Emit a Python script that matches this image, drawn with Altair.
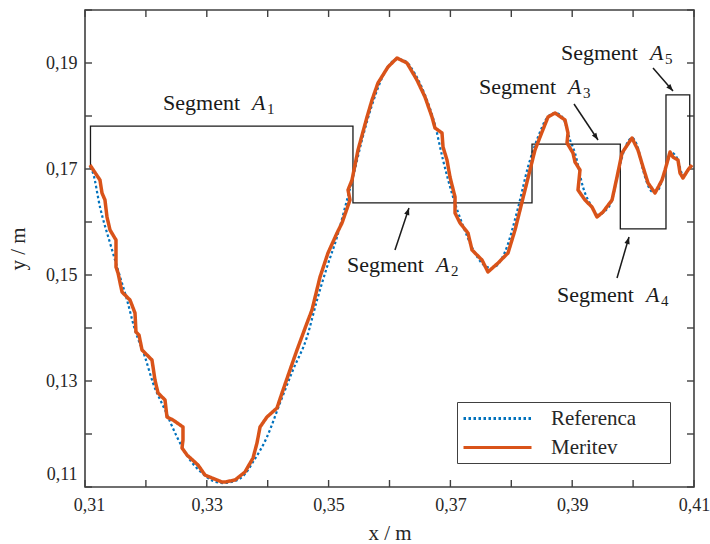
import math
import altair as alt
import pandas as pd

# ---------------- data ----------------
ref_x = [0.31082, 0.31131, 0.31246, 0.31411, 0.31542, 0.31690, 0.31821, 0.31985, 0.32117, 0.32314,
         0.32511, 0.32691, 0.32921, 0.33102, 0.33266, 0.33463, 0.33627, 0.33759, 0.33988, 0.34202,
         0.34415, 0.34645, 0.34810, 0.34974, 0.35138, 0.35302, 0.35401, 0.35548, 0.35713, 0.35877,
         0.36010, 0.36123, 0.36254, 0.36420, 0.36583, 0.36747, 0.36879, 0.37043, 0.37190, 0.37404,
         0.37568, 0.37683, 0.37896, 0.38110, 0.38274, 0.38439, 0.38585, 0.38718, 0.38850, 0.38965,
         0.39046, 0.39177, 0.39325, 0.39424, 0.39539, 0.39654, 0.39752, 0.39867, 0.39982, 0.40080,
         0.40163, 0.40327, 0.40410, 0.40491, 0.40639, 0.40721, 0.40819, 0.40934]
ref_y = [0.17038, 0.16925, 0.16283, 0.15604, 0.15094, 0.14528, 0.13962, 0.13453, 0.12962, 0.12453,
         0.11943, 0.11566, 0.11264, 0.11113, 0.11075, 0.11113, 0.11245, 0.11472, 0.11943, 0.12585,
         0.13208, 0.13830, 0.14528, 0.15151, 0.15717, 0.16415, 0.16849, 0.17547, 0.18208, 0.18717,
         0.18981, 0.19075, 0.19038, 0.18792, 0.18396, 0.17830, 0.17170, 0.16472, 0.15981, 0.15415,
         0.15170, 0.15132, 0.15434, 0.16264, 0.17038, 0.17604, 0.17962, 0.18057, 0.17962, 0.17547,
         0.17302, 0.16660, 0.16283, 0.16132, 0.16208, 0.16415, 0.16925, 0.17396, 0.17585, 0.17396,
         0.16981, 0.16566, 0.16604, 0.16849, 0.17302, 0.17208, 0.16887, 0.17038]

mer_x = [0.31082, 0.31246, 0.31279, 0.31328, 0.31361, 0.31411, 0.31509, 0.31509, 0.31542, 0.31608,
         0.31739, 0.31821, 0.31837, 0.31887, 0.31936, 0.32100, 0.32149, 0.32199, 0.32314, 0.32346,
         0.32445, 0.32609, 0.32609, 0.32593, 0.32675, 0.32856, 0.32970, 0.33085, 0.33250, 0.33299,
         0.33463, 0.33627, 0.33759, 0.33824, 0.33874, 0.33988, 0.34153, 0.34235, 0.34366, 0.34481,
         0.34645, 0.34727, 0.34859, 0.34990, 0.35138, 0.35220, 0.35351, 0.35319, 0.35384, 0.35483,
         0.35631, 0.35713, 0.35811, 0.35975, 0.36123, 0.36287, 0.36451, 0.36583, 0.36698, 0.36747,
         0.36862, 0.36879, 0.36944, 0.36993, 0.37076, 0.37076, 0.37158, 0.37289, 0.37355, 0.37519,
         0.37617, 0.37782, 0.37946, 0.38061, 0.38143, 0.38225, 0.38307, 0.38389, 0.38504, 0.38603,
         0.38718, 0.38882, 0.38931, 0.38915, 0.39013, 0.39046, 0.39128, 0.39095, 0.39210, 0.39325,
         0.39407, 0.39506, 0.39654, 0.39736, 0.39818, 0.39982, 0.40080, 0.40163, 0.40245, 0.40360,
         0.40475, 0.40525, 0.40606, 0.40655, 0.40737, 0.40770, 0.40819, 0.40901, 0.40967]
mer_y = [0.17075, 0.16792, 0.16547, 0.16415, 0.16094, 0.15849, 0.15660, 0.15151, 0.15038, 0.14679,
         0.14528, 0.14283, 0.13925, 0.13868, 0.13585, 0.13396, 0.13019, 0.12774, 0.12642, 0.12321,
         0.12264, 0.12132, 0.11887, 0.11736, 0.11604, 0.11415, 0.11226, 0.11170, 0.11094, 0.11094,
         0.11132, 0.11283, 0.11547, 0.11830, 0.12132, 0.12321, 0.12491, 0.12774, 0.13208, 0.13585,
         0.14094, 0.14340, 0.14962, 0.15415, 0.15792, 0.15981, 0.16415, 0.16604, 0.16792, 0.17358,
         0.17981, 0.18302, 0.18623, 0.18925, 0.19094, 0.19000, 0.18679, 0.18358, 0.17981, 0.17774,
         0.17679, 0.17415, 0.17170, 0.16849, 0.16472, 0.16170, 0.15981, 0.15792, 0.15472, 0.15283,
         0.15057, 0.15226, 0.15415, 0.15849, 0.16226, 0.16604, 0.16981, 0.17358, 0.17698, 0.17981,
         0.18057, 0.17925, 0.17679, 0.17491, 0.17302, 0.17132, 0.16981, 0.16604, 0.16415, 0.16283,
         0.16094, 0.16189, 0.16415, 0.16849, 0.17302, 0.17585, 0.17358, 0.17038, 0.16736, 0.16547,
         0.16792, 0.16981, 0.17321, 0.17226, 0.17170, 0.16925, 0.16830, 0.16981, 0.17075]

# segment outline (step polyline)
seg_x = [0.3109, 0.3109, 0.3540, 0.3540, 0.3834, 0.3834, 0.3979, 0.3979, 0.4054, 0.4054, 0.4093, 0.4093]
seg_y = [0.1706, 0.1781, 0.1781, 0.1636, 0.1636, 0.1747, 0.1747, 0.1587, 0.1587, 0.1840, 0.1840, 0.1706]

# segment labels: left end of "Segment", baseline
lab_x = [0.32281, 0.35302, 0.37470, 0.38750, 0.38816]
lab_y = [0.18113, 0.15057, 0.18415, 0.14491, 0.19057]
lab_sub = ["1", "2", "3", "4", "5"]

# arrows: start -> tip
arr_x1 = [0.36090, 0.39030, 0.39736, 0.40327]
arr_y1 = [0.15472, 0.18226, 0.14943, 0.18906]
arr_x2 = [0.36320, 0.39424, 0.39933, 0.40655]
arr_y2 = [0.16264, 0.17547, 0.15717, 0.18472]

x_ticks = [0.31, 0.32, 0.33, 0.34, 0.35, 0.36, 0.37, 0.38, 0.39, 0.40, 0.41]
y_ticks = [0.11, 0.12, 0.13, 0.14, 0.15, 0.16, 0.17, 0.18, 0.19, 0.20]
x_labels = [0.31, 0.33, 0.35, 0.37, 0.39, 0.41]
y_labels = [0.11, 0.13, 0.15, 0.17, 0.19]

series_names = ["Referenca", "Meritev"]
series_colors = ["#0072BD", "#D95319"]

# ---------------- layout ----------------
W, H = 609, 477
X0, X1 = 0.31, 0.41
Y0, Y1 = 0.11, 0.20
FONT = "Liberation Serif"
AX = "#404040"
TXT = "#262626"

xs = alt.Scale(domain=[X0, X1], nice=False, zero=False)
ys = alt.Scale(domain=[Y0, Y1], nice=False, zero=False)
lbl_expr = "replace(format(datum.value, '.2f'), '.', ',')"

ref_df = pd.DataFrame({"x": ref_x, "y": ref_y, "series": "Referenca", "i": range(len(ref_x))})
mer_df = pd.DataFrame({"x": mer_x, "y": mer_y, "series": "Meritev", "i": range(len(mer_x))})
seg_df = pd.DataFrame({"x": seg_x, "y": seg_y, "i": range(len(seg_x))})
lab_df = pd.DataFrame({"x": lab_x, "y": lab_y, "sub": lab_sub})

sx, sy = W / (X1 - X0), H / (Y1 - Y0)
angles = []
for a, b, c, d in zip(arr_x1, arr_y1, arr_x2, arr_y2):
    dxp = (c - a) * sx
    dyp = -(d - b) * sy
    angles.append(math.degrees(math.atan2(dxp, -dyp)) % 360)
arr_df = pd.DataFrame({"x": arr_x1, "y": arr_y1, "x2": arr_x2, "y2": arr_y2, "ang": angles})

# invisible title placed to the right widens the legend box like the reference
leg = alt.Legend(title=".", titleOrient="right", titleOpacity=0, titleFontSize=10, titlePadding=26,
                 orient="none", legendX=372, legendY=392,
                 symbolType="M-1,0H5.8", symbolSize=400, symbolStrokeWidth=3,
                 labelFont=FONT, labelFontSize=21, labelColor=TXT,
                 strokeColor=AX, fillColor="white", padding=5,
                 rowPadding=7, labelOffset=66)
color = alt.Color("series:N", scale=alt.Scale(domain=series_names, range=series_colors), legend=leg)
dash = alt.StrokeDash("series:N", scale=alt.Scale(domain=series_names, range=[[2.5, 2.5], [1, 0]]),
                      legend=leg)

x_axis = alt.Axis(values=x_labels, labelExpr=lbl_expr, ticks=False, domain=False, grid=False,
                  labelFlush=False,
                  labelOffset={"condition": {"test": "datum.value < 0.315", "value": 4}, "value": 0},
                  labelFont=FONT, labelFontSize=18, labelColor=TXT, labelPadding=9,
                  title="x / m", titleFont=FONT, titleFontSize=21, titleFontWeight="normal",
                  titleColor=TXT, titlePadding=8)
y_axis = alt.Axis(values=y_labels, labelExpr=lbl_expr, ticks=False, domain=False, grid=False,
                  labelFlush=False,
                  labelOffset={"condition": {"test": "datum.value < 0.115", "value": -13}, "value": 0},
                  labelFont=FONT, labelFontSize=18, labelColor=TXT, labelPadding=8,
                  title="y / m", titleFont=FONT, titleFontSize=21, titleFontWeight="normal",
                  titleColor=TXT, titlePadding=17)


def X(field):
    return alt.X(field, type="quantitative", scale=xs, axis=x_axis)


def Y(field):
    return alt.Y(field, type="quantitative", scale=ys, axis=y_axis)


ref_line = alt.Chart(ref_df).mark_line(strokeWidth=2.2, interpolate="monotone").encode(
    x=X("x"), y=Y("y"), color=color, strokeDash=dash, order="i:Q")
mer_line = alt.Chart(mer_df).mark_line(strokeWidth=3.5, strokeJoin="round").encode(
    x=X("x"), y=Y("y"), color=color, strokeDash=dash, order="i:Q")

seg_line = alt.Chart(seg_df).mark_line(color="#1a1a1a", strokeWidth=1.3).encode(
    x=X("x"), y=Y("y"), order="i:Q")

arr_rule = alt.Chart(arr_df).mark_rule(color="#1a1a1a", strokeWidth=1.5).encode(
    x=X("x"), y=Y("y"), x2="x2:Q", y2="y2:Q")
arr_head = alt.Chart(arr_df).mark_point(shape="M0,0L-0.38,1L0.38,1Z", filled=True, size=200,
                                         color="#1a1a1a", opacity=1).encode(
    x=X("x2"), y=Y("y2"), angle=alt.Angle("ang:Q", scale=None))

t_seg = alt.Chart(lab_df).mark_text(text="Segment", align="left", baseline="alphabetic",
                                     font=FONT, fontSize=22, color="#1a1a1a").encode(x=X("x"), y=Y("y"))
t_a = alt.Chart(lab_df).mark_text(text="A", align="left", baseline="alphabetic", dx=89,
                                   font=FONT, fontSize=22, fontStyle="italic", color="#1a1a1a").encode(
    x=X("x"), y=Y("y"))
t_sub = alt.Chart(lab_df).mark_text(align="left", baseline="alphabetic", dx=104, dy=4,
                                     font=FONT, fontSize=15, color="#1a1a1a").encode(
    x=X("x"), y=Y("y"), text="sub:N")

# inward tick marks on all four sides
xt_df = pd.DataFrame({"v": x_ticks})
yt_df = pd.DataFrame({"v": y_ticks})
TL = 7
tick_b = alt.Chart(xt_df).mark_rule(color=AX, strokeWidth=1.4).encode(
    x=X("v"), y=alt.value(H), y2=alt.value(H - TL))
tick_t = alt.Chart(xt_df).mark_rule(color=AX, strokeWidth=1.4).encode(
    x=X("v"), y=alt.value(0), y2=alt.value(TL))
tick_l = alt.Chart(yt_df).mark_rule(color=AX, strokeWidth=1.4).encode(
    y=Y("v"), x=alt.value(0), x2=alt.value(TL))
tick_r = alt.Chart(yt_df).mark_rule(color=AX, strokeWidth=1.4).encode(
    y=Y("v"), x=alt.value(W), x2=alt.value(W - TL))

chart = alt.layer(
    ref_line, tick_b, tick_t, tick_l, tick_r, seg_line, mer_line, arr_rule, arr_head, t_seg, t_a, t_sub
).properties(
    width=W, height=H,
    autosize=alt.AutoSizeParams(type="none"),
    padding={"left": 85, "top": 10, "right": 16, "bottom": 57},
    background="white",
).configure_view(stroke=AX, strokeWidth=1.6).resolve_scale(color="shared", strokeDash="shared")

chart.save("out.html", embed_options={"renderer": "svg", "actions": False})
